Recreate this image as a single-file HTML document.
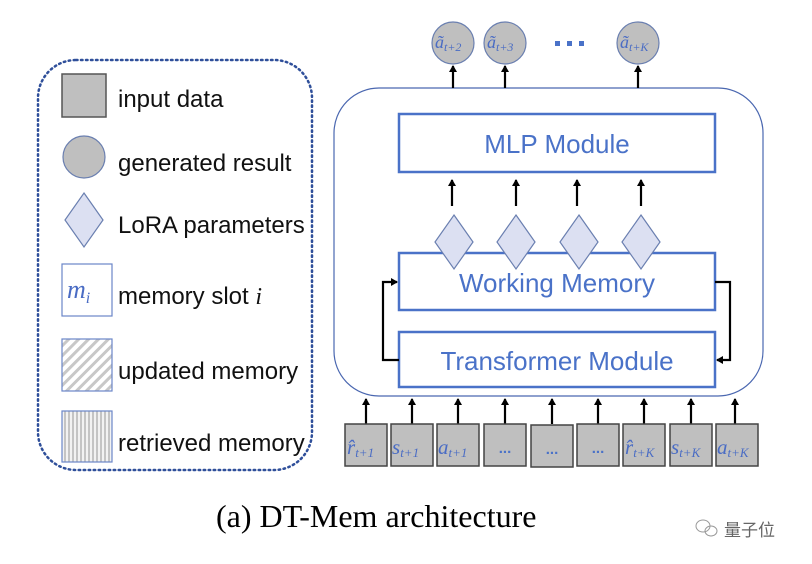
<!DOCTYPE html>
<html><head><meta charset="utf-8"><style>html,body{margin:0;padding:0;background:#fff;width:812px;height:564px;overflow:hidden}</style></head>
<body>
<svg width="812" height="564" viewBox="0 0 812 564" xmlns="http://www.w3.org/2000/svg">
<defs>
<pattern id="diag" width="7" height="7" patternUnits="userSpaceOnUse" patternTransform="rotate(45)">
<rect width="7" height="7" fill="#fff"/><rect width="3" height="7" fill="#c8c8c8"/></pattern>
<pattern id="vert" width="4" height="4" patternUnits="userSpaceOnUse">
<rect width="4" height="4" fill="#f2f2f2"/><rect width="2" height="4" fill="#c4c4c4"/></pattern>
<marker id="ah" markerWidth="8" markerHeight="8" refX="6" refY="4" orient="auto" markerUnits="userSpaceOnUse">
<path d="M0,0 L7,4 L0,8 z" fill="#000"/></marker>
</defs>
<!-- legend -->
<rect x="38" y="60" width="274" height="410" rx="38" fill="none" stroke="#2f4f9a" stroke-width="2.5" stroke-dasharray="1.5 3.5" stroke-linecap="round"/>
<rect x="62" y="74" width="44" height="43" fill="#bfbfbf" stroke="#555" stroke-width="1.5"/>
<circle cx="84" cy="157" r="21" fill="#bfbfbf" stroke="#6a7fb0" stroke-width="1.2"/>
<polygon points="84,193 103,220 84,247 65,220" fill="#dce0f2" stroke="#6a7fb0" stroke-width="1.2"/>
<rect x="62" y="264" width="50" height="52" fill="#fff" stroke="#6a86c8" stroke-width="1.2"/>
<text x="67" y="298" font-family="Liberation Serif, serif" font-style="italic" font-size="26" fill="#4a6cc4">m<tspan font-size="16" dy="5">i</tspan></text>
<rect x="62" y="339" width="50" height="52" fill="url(#diag)" stroke="#6a86c8" stroke-width="1.2"/>
<rect x="62" y="411" width="50" height="51" fill="url(#vert)" stroke="#6a86c8" stroke-width="1.2"/>
<g font-family="Liberation Sans, sans-serif" font-size="24" fill="#111">
<text x="118" y="107">input data</text>
<text x="118" y="171">generated result</text>
<text x="118" y="233">LoRA parameters</text>
<text x="118" y="304">memory slot <tspan font-family="Liberation Serif, serif" font-style="italic">i</tspan></text>
<text x="118" y="379">updated memory</text>
<text x="118" y="451">retrieved memory</text>
</g>
<!-- main -->
<rect x="334" y="88" width="429" height="308" rx="45" fill="#fff" stroke="#4a67b0" stroke-width="1.2"/>
<g fill="#fff" stroke="#4a72c8" stroke-width="2.5">
<rect x="399" y="114" width="316" height="58"/>
<rect x="399" y="253" width="316" height="57"/>
<rect x="399" y="332" width="316" height="55"/>
</g>
<g fill="#dce0f2" stroke="#6a7fb0" stroke-width="1.2">
<polygon points="454,215 473,242 454,269 435,242"/>
<polygon points="516,215 535,242 516,269 497,242"/>
<polygon points="579,215 598,242 579,269 560,242"/>
<polygon points="641,215 660,242 641,269 622,242"/>
</g>
<g font-family="Liberation Sans, sans-serif" font-size="26" fill="#4a72c8" text-anchor="middle">
<text x="557" y="153">MLP Module</text>
<text x="557" y="292">Working Memory</text>
<text x="557" y="370">Transformer Module</text>
</g>
<g stroke="#000" stroke-width="2.2" fill="none" marker-end="url(#ah)">
<line x1="452" y1="206" x2="452" y2="180"/>
<line x1="516" y1="206" x2="516" y2="180"/>
<line x1="577" y1="206" x2="577" y2="180"/>
<line x1="641" y1="206" x2="641" y2="180"/>
<polyline points="399,360 383,360 383,282 397,282"/>
<polyline points="715,282 730,282 730,360 717,360"/>
<line x1="453" y1="88" x2="453" y2="66"/>
<line x1="505" y1="88" x2="505" y2="66"/>
<line x1="638" y1="88" x2="638" y2="66"/>
</g>
<!-- top circles -->
<g fill="#bfbfbf" stroke="#6a7fb0" stroke-width="1.2">
<circle cx="453" cy="43" r="21"/><circle cx="505" cy="43" r="21"/><circle cx="638" cy="43" r="21"/>
</g>
<g font-family="Liberation Serif, serif" font-style="italic" fill="#4a6cc4" font-size="18">
<text x="435" y="48">ã<tspan font-size="12" dy="3">t+2</tspan></text>
<text x="487" y="48">ã<tspan font-size="12" dy="3">t+3</tspan></text>
<text x="620" y="48">ã<tspan font-size="12" dy="3">t+K</tspan></text>
</g>
<g fill="#4a72c8"><rect x="555" y="41" width="5" height="5"/><rect x="567" y="41" width="5" height="5"/><rect x="579" y="41" width="5" height="5"/></g>
<!-- bottom inputs -->
<g stroke="#000" stroke-width="2.2" marker-end="url(#ah)">
<line x1="366" y1="424" x2="366" y2="399"/><line x1="412" y1="424" x2="412" y2="399"/><line x1="458" y1="424" x2="458" y2="399"/>
<line x1="505" y1="424" x2="505" y2="399"/><line x1="552" y1="424" x2="552" y2="399"/><line x1="598" y1="424" x2="598" y2="399"/>
<line x1="644" y1="424" x2="644" y2="399"/><line x1="691" y1="424" x2="691" y2="399"/><line x1="735" y1="424" x2="735" y2="399"/>
</g>
<g fill="#bfbfbf" stroke="#444" stroke-width="1.5">
<rect x="345" y="424" width="42" height="42"/><rect x="391" y="424" width="42" height="42"/><rect x="437" y="424" width="42" height="42"/>
<rect x="484" y="424" width="42" height="42"/><rect x="531" y="425" width="42" height="42"/><rect x="577" y="424" width="42" height="42"/>
<rect x="623" y="424" width="42" height="42"/><rect x="670" y="424" width="42" height="42"/><rect x="716" y="424" width="42" height="42"/>
</g>
<g font-family="Liberation Serif, serif" font-style="italic" fill="#4a6cc4" font-size="21">
<text x="347" y="454">r̂<tspan font-size="13" dy="3">t+1</tspan></text>
<text x="392" y="454">s<tspan font-size="13" dy="3">t+1</tspan></text>
<text x="438" y="454">a<tspan font-size="13" dy="3">t+1</tspan></text>
<text x="625" y="454">r̂<tspan font-size="13" dy="3">t+K</tspan></text>
<text x="671" y="454">s<tspan font-size="13" dy="3">t+K</tspan></text>
<text x="717" y="454">a<tspan font-size="13" dy="3">t+K</tspan></text>
</g>
<g font-family="Liberation Sans, sans-serif" fill="#4a72c8" font-size="15" font-weight="bold" text-anchor="middle">
<text x="505" y="453">...</text><text x="552" y="454">...</text><text x="598" y="453">...</text>
</g>
<!-- caption -->
<text x="216" y="527" font-family="Liberation Serif, serif" font-size="32" fill="#000">(a) DT-Mem architecture</text>
<g stroke="#999" fill="none" stroke-width="1"><ellipse cx="703" cy="526" rx="7" ry="6"/><ellipse cx="711" cy="531" rx="6" ry="5"/></g>
<text x="724" y="536" font-family="Liberation Sans, 'Noto Sans CJK SC', sans-serif" font-size="17" fill="#666">量子位</text>
</svg>
</body></html>
